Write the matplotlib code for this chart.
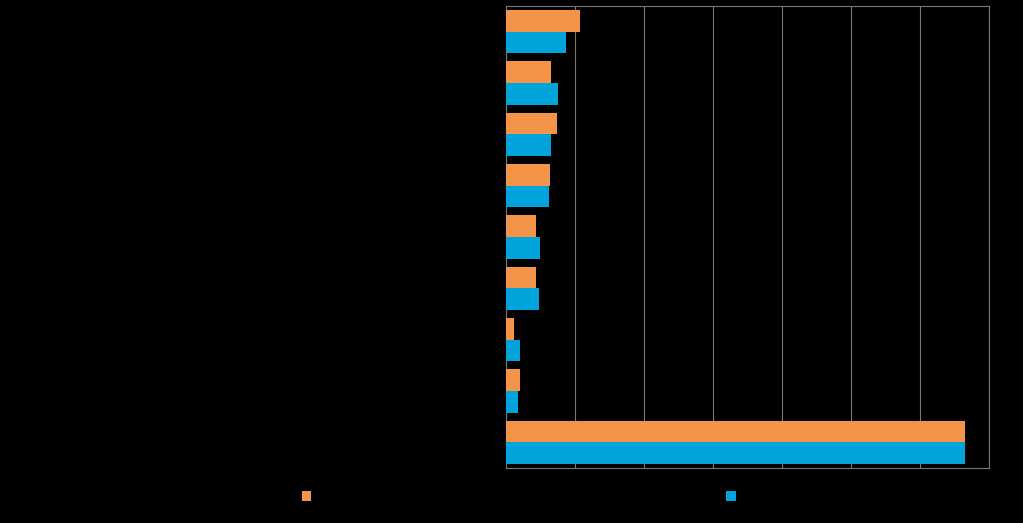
import matplotlib
matplotlib.use("Agg")
import matplotlib.pyplot as plt
import numpy as np

categories = ["Category 1", "Category 2", "Category 3", "Category 4", "Category 5",
              "Category 6", "Category 7", "Category 8", "Category 9"]
series_a = [10.7, 6.5, 7.4, 6.4, 4.3, 4.3, 1.2, 2.0, 66.5]
series_b = [8.7, 7.5, 6.5, 6.2, 4.9, 4.8, 2.0, 1.7, 66.5]
series_names = ["Series A", "Series B"]
xticks = [0, 10, 20, 30, 40, 50, 60, 70]

fig = plt.figure(figsize=(10.23, 5.23), dpi=100, facecolor="black")
ax = fig.add_axes([506/1023, 1-468/523, 483/1023, 462/523], facecolor="black")
y = np.arange(len(categories))
h = 0.42
ax.barh(y - h/2, series_a, height=h, color="#f39449", label=series_names[0], zorder=3)
ax.barh(y + h/2, series_b, height=h, color="#00a3da", label=series_names[1], zorder=3)
ax.set_ylim(len(categories)-0.5, -0.5)
ax.set_xlim(0, 70)
ax.set_xticks(xticks)
ax.set_xticklabels([str(t) for t in xticks], color="black")
ax.set_yticks(y)
ax.set_yticklabels(categories, color="black")
ax.tick_params(length=0)
ax.grid(axis="x", color="#777777", linewidth=0.8, zorder=0)
for s in ax.spines.values():
    s.set_color("#777777")
    s.set_linewidth(0.8)
fig.legend(handles=ax.patches[:1] + ax.patches[len(categories):len(categories)+1],
           labels=series_names, loc="center", bbox_to_anchor=(0.54, 1-497/523),
           ncol=2, frameon=False, columnspacing=25, handlelength=0.7, handleheight=0.7,
           labelcolor="black")
fig.savefig("out.png", dpi=100, facecolor="black")
